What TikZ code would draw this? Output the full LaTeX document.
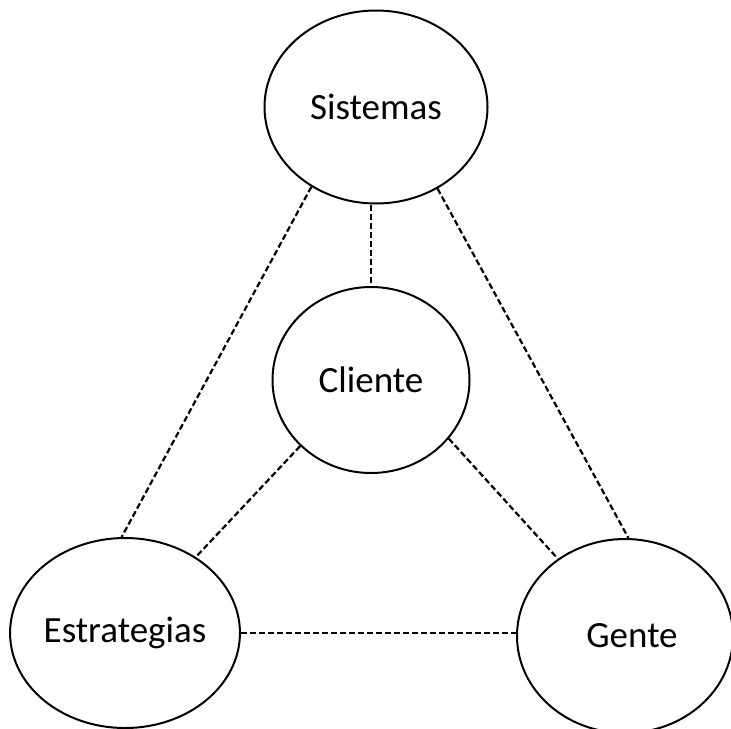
\documentclass[tikz,border=0pt]{standalone}
\usepackage{fontspec}
\setmainfont{Carlito}
\usepackage{tikz}
\usetikzlibrary{shapes.geometric}

\begin{document}
\begin{tikzpicture}[x=0.5pt, y=-0.5pt,
    bubble/.style={ellipse, draw, line width=1pt, inner sep=0pt,
        font=\fontsize{18.5}{22}\selectfont},
    link/.style={line width=1.1pt, dash pattern=on 3pt off 1.5pt}]
    \useasboundingbox (0,0) rectangle (731,728);

    \node[bubble, minimum width=111.5pt, minimum height=96.5pt] (Sis) at (376,107) {Sistemas};
    \node[bubble, minimum width=98.5pt, minimum height=93pt] (Cli) at (371,380) {Cliente};
    \node[bubble, minimum width=112pt, minimum height=95pt] (Est) at (125,633) {Estrategias};
    \node[bubble, minimum width=108pt, minimum height=97pt] (Gen) at (625,636) {\hspace{7pt}Gente};

    \path[link]
    (Cli.north |- Sis.south) edge (Cli.north)
    (Sis.231.5) edge (Est.92)
    (Sis.307) edge (Gen.88)
    (Cli.223.5) edge (Est.47)
    (Cli.323) edge (Gen.131.5)
    (Est.east) edge (Est.east -| Gen.west);
\end{tikzpicture}
\end{document}
